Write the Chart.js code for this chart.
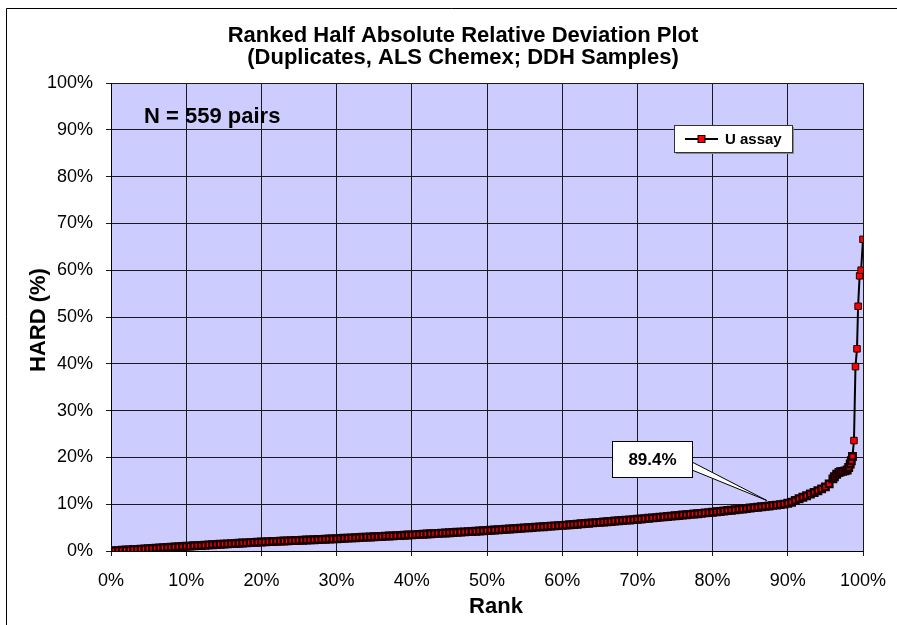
<!DOCTYPE html>
<html>
<head>
<meta charset="utf-8">
<script src="https://cdn.jsdelivr.net/npm/chart.js@4/dist/chart.umd.min.js"></script>
<style>
  html, body { margin: 0; padding: 0; background: #fff; }
  #wrap { width: 897px; height: 625px; position: relative; overflow: hidden; }
</style>
</head>
<body>
<div id="wrap"><canvas id="chart" width="897" height="625"></canvas></div>
<script>

/**********/
/********** DATA **********/
/**********/

// rank of each pair (%)
const rankPct = [
  0, 0.5, 1, 1.5, 2, 2.5, 3, 3.5, 4, 4.5,
  5, 5.5, 6, 6.5, 7, 7.5, 8, 8.5, 9, 9.5,
  10, 10.5, 11, 11.5, 12, 12.5, 13, 13.5, 14, 14.5,
  15, 15.5, 16, 16.5, 17, 17.5, 18, 18.5, 19, 19.5,
  20, 20.5, 21, 21.5, 22, 22.5, 23, 23.5, 24, 24.5,
  25, 25.5, 26, 26.5, 27, 27.5, 28, 28.5, 29, 29.5,
  30, 30.5, 31, 31.5, 32, 32.5, 33, 33.5, 34, 34.5,
  35, 35.5, 36, 36.5, 37, 37.5, 38, 38.5, 39, 39.5,
  40, 40.5, 41, 41.5, 42, 42.5, 43, 43.5, 44, 44.5,
  45, 45.5, 46, 46.5, 47, 47.5, 48, 48.5, 49, 49.5,
  50, 50.5, 51, 51.5, 52, 52.5, 53, 53.5, 54, 54.5,
  55, 55.5, 56, 56.5, 57, 57.5, 58, 58.5, 59, 59.5,
  60, 60.5, 61, 61.5, 62, 62.5, 63, 63.5, 64, 64.5,
  65, 65.5, 66, 66.5, 67, 67.5, 68, 68.5, 69, 69.5,
  70, 70.5, 71, 71.5, 72, 72.5, 73, 73.5, 74, 74.5,
  75, 75.5, 76, 76.5, 77, 77.5, 78, 78.5, 79, 79.5,
  80, 80.5, 81, 81.5, 82, 82.5, 83, 83.5, 84, 84.5,
  85, 85.5, 86, 86.5, 87, 87.5, 88, 88.5, 89, 89.5,
  90, 90.5, 91, 91.5, 92, 92.5, 93, 93.5, 94, 94.5,
  95, 95.5, 96, 96.2, 96.5, 96.8, 97, 97.3, 97.6, 97.9,
  98.1, 98.3, 98.45, 98.6, 98.8, 99, 99.2, 99.35, 99.55, 99.75,
  100
]

// half absolute relative deviation (%) for each rank
const hardPct = [
  0.00, 0.04, 0.09, 0.15, 0.20, 0.25, 0.31, 0.35, 0.40, 0.46,
  0.51, 0.55, 0.60, 0.66, 0.71, 0.75, 0.80, 0.86, 0.91, 0.96,
  1.01, 1.05, 1.11, 1.15, 1.19, 1.24, 1.30, 1.33, 1.38, 1.43,
  1.46, 1.52, 1.57, 1.60, 1.65, 1.71, 1.74, 1.78, 1.84, 1.88,
  1.91, 1.95, 2.00, 2.03, 2.06, 2.11, 2.14, 2.17, 2.22, 2.25,
  2.27, 2.31, 2.36, 2.38, 2.41, 2.46, 2.49, 2.52, 2.57, 2.60,
  2.63, 2.68, 2.71, 2.75, 2.81, 2.84, 2.87, 2.93, 2.96, 2.99,
  3.05, 3.08, 3.11, 3.17, 3.20, 3.23, 3.29, 3.32, 3.36, 3.41,
  3.44, 3.50, 3.55, 3.58, 3.62, 3.68, 3.72, 3.76, 3.82, 3.86,
  3.89, 3.95, 4.00, 4.03, 4.08, 4.14, 4.17, 4.22, 4.29, 4.32,
  4.37, 4.44, 4.48, 4.53, 4.61, 4.65, 4.70, 4.77, 4.81, 4.86,
  4.94, 4.98, 5.03, 5.10, 5.15, 5.19, 5.27, 5.31, 5.36, 5.43,
  5.48, 5.53, 5.62, 5.67, 5.73, 5.81, 5.86, 5.92, 6.01, 6.06,
  6.12, 6.20, 6.25, 6.31, 6.40, 6.45, 6.51, 6.59, 6.64, 6.70,
  6.79, 6.84, 6.92, 7.01, 7.07, 7.14, 7.24, 7.29, 7.37, 7.46,
  7.52, 7.59, 7.69, 7.74, 7.82, 7.91, 7.97, 8.04, 8.14, 8.19,
  8.27, 8.38, 8.45, 8.54, 8.65, 8.72, 8.81, 8.92, 8.99, 9.08,
  9.19, 9.26, 9.35, 9.46, 9.54, 9.63, 9.74, 9.81, 9.91, 10.02,
  10.19, 10.42, 10.78, 11.16, 11.47, 11.79, 12.18, 12.49, 12.87, 13.28,
  13.71, 14.35, 15.42, 15.88, 16.40, 16.78, 16.92, 17.01, 17.12, 17.30,
  17.85, 18.60, 19.30, 20.20, 23.60, 39.40, 43.20, 52.30, 58.80, 60.00,
  66.60
]

const xTicks = [0, 10, 20, 30, 40, 50, 60, 70, 80, 90, 100]
const yTicks = [0, 10, 20, 30, 40, 50, 60, 70, 80, 90, 100]

const titleLines = ['Ranked Half Absolute Relative Deviation Plot', '(Duplicates, ALS Chemex; DDH Samples)']
const seriesName = 'U assay'
const countLabel = 'N = 559 pairs'
const calloutText = '89.4%'
const calloutAt = [87.2, 10.8]   // rank, HARD the callout points at

/**********/
/********** STYLE **********/
/**********/

const FONT = '"Liberation Sans", Arial, sans-serif'
const PLOT_BG = '#CCCCFF'
const GRID = '#1a1a1a'

/**********/
/********** DECORATION PLUGIN **********/
/**********/

const decor = {
  id: 'decor',
  beforeDraw: (chart) => {
    const { ctx, chartArea: a } = chart
    ctx.save()
    ctx.fillStyle = '#fff'
    ctx.fillRect(0, 0, chart.width, chart.height)
    ctx.fillStyle = PLOT_BG
    ctx.fillRect(a.left, a.top, a.right - a.left, a.bottom - a.top)
    // outer chart border (left and top visible)
    ctx.strokeStyle = '#000'
    ctx.lineWidth = 1
    ctx.beginPath()
    ctx.moveTo(6.5, chart.height)
    ctx.lineTo(6.5, 8.5)
    ctx.lineTo(chart.width, 8.5)
    ctx.stroke()
    ctx.restore()
  },
  afterDraw: (chart) => {
    const { ctx, scales } = chart
    ctx.save()
    ctx.fillStyle = '#000'

    // title
    ctx.font = 'bold 22px ' + FONT
    ctx.textAlign = 'center'
    ctx.textBaseline = 'alphabetic'
    ctx.fillText(titleLines[0], 463, 42)
    ctx.fillText(titleLines[1], 463, 64)

    // axis titles
    ctx.fillText('Rank', 496, 613)
    ctx.save()
    ctx.translate(45, 320)
    ctx.rotate(-Math.PI / 2)
    ctx.fillText('HARD (%)', 0, 0)
    ctx.restore()

    // sample count
    ctx.textAlign = 'left'
    ctx.fillText(countLabel, 144, 123)

    // legend
    const lx = 674, ly = 125, lw = 118, lh = 27
    ctx.fillStyle = '#888'
    ctx.fillRect(lx + 2, ly + 2, lw, lh)
    ctx.fillStyle = '#fff'
    ctx.fillRect(lx, ly, lw, lh)
    ctx.strokeStyle = '#333'
    ctx.lineWidth = 1
    ctx.strokeRect(lx + 0.5, ly + 0.5, lw, lh)
    const my = ly + lh / 2 + 0.5
    ctx.strokeStyle = '#000'
    ctx.lineWidth = 2
    ctx.beginPath()
    ctx.moveTo(lx + 11, my)
    ctx.lineTo(lx + 44, my)
    ctx.stroke()
    ctx.fillStyle = '#FF0000'
    ctx.fillRect(lx + 24, my - 3.5, 7, 7)
    ctx.lineWidth = 1
    ctx.strokeRect(lx + 24, my - 3.5, 7, 7)
    ctx.fillStyle = '#000'
    ctx.font = 'bold 15px ' + FONT
    ctx.textBaseline = 'middle'
    ctx.fillText(seriesName, lx + 51, my + 1)

    // callout
    const tx = scales.x.getPixelForValue(calloutAt[0])
    const ty = scales.y.getPixelForValue(calloutAt[1])
    const bx = 612, by = 441, bw = 80, bh = 36
    ctx.fillStyle = '#fff'
    ctx.strokeStyle = '#000'
    ctx.lineWidth = 1
    ctx.beginPath()
    ctx.moveTo(bx + bw, by + 21)
    ctx.lineTo(tx, ty)
    ctx.lineTo(bx + bw, by + 29)
    ctx.closePath()
    ctx.fill()
    ctx.stroke()
    ctx.fillRect(bx, by, bw, bh)
    ctx.strokeRect(bx + 0.5, by + 0.5, bw, bh)
    ctx.fillStyle = '#000'
    ctx.font = 'bold 17px ' + FONT
    ctx.textAlign = 'center'
    ctx.textBaseline = 'middle'
    ctx.fillText(calloutText, bx + bw / 2 + 0.5, by + bh / 2 + 1)

    ctx.restore()
  }
}

/**********/
/********** CHART **********/
/**********/

const points = rankPct.map((r, i) => ({ x: r, y: hardPct[i] }))

// markers in the dense part of the curve overlap, so their dark edges dominate
const denseEdge = (c) => (c.raw && c.raw.y < 21 ? 2.4 : 1)

new Chart(document.getElementById('chart'), {
  type: 'scatter',
  data: {
    datasets: [{
      label: seriesName,
      data: points,
      showLine: true,
      borderColor: '#000',
      borderWidth: 2,
      pointStyle: 'rect',
      pointRadius: 4.6,
      pointBackgroundColor: '#FF0000',
      pointBorderColor: '#1a0000',
      pointBorderWidth: denseEdge
    }]
  },
  options: {
    responsive: false,
    animation: false,
    layout: { padding: { left: 0, top: 83, right: 34, bottom: 0 } },
    plugins: {
      legend: { display: false },
      tooltip: { enabled: false }
    },
    scales: {
      x: {
        type: 'linear',
        min: 0,
        max: 100,
        afterBuildTicks: (s) => { s.ticks = xTicks.map(v => ({ value: v })) },
        afterFit: (s) => { s.height = 74; s.paddingLeft = 0; s.paddingRight = 0 },
        grid: { color: GRID, lineWidth: 1, tickLength: 5 },
        border: { color: '#000', width: 1 },
        ticks: {
          color: '#000',
          padding: 14,
          maxRotation: 0,
          font: { family: FONT, size: 18 },
          callback: (v) => v + '%'
        }
      },
      y: {
        type: 'linear',
        min: 0,
        max: 100,
        afterBuildTicks: (s) => { s.ticks = yTicks.map(v => ({ value: v })) },
        afterFit: (s) => { s.width = 111; s.paddingTop = 0; s.paddingBottom = 0 },
        grid: { color: GRID, lineWidth: 1, tickLength: 5 },
        border: { color: '#000', width: 1 },
        ticks: {
          color: '#000',
          padding: 13,
          font: { family: FONT, size: 18 },
          callback: (v) => v + '%'
        }
      }
    }
  },
  plugins: [decor]
})

</script>
</body>
</html>
